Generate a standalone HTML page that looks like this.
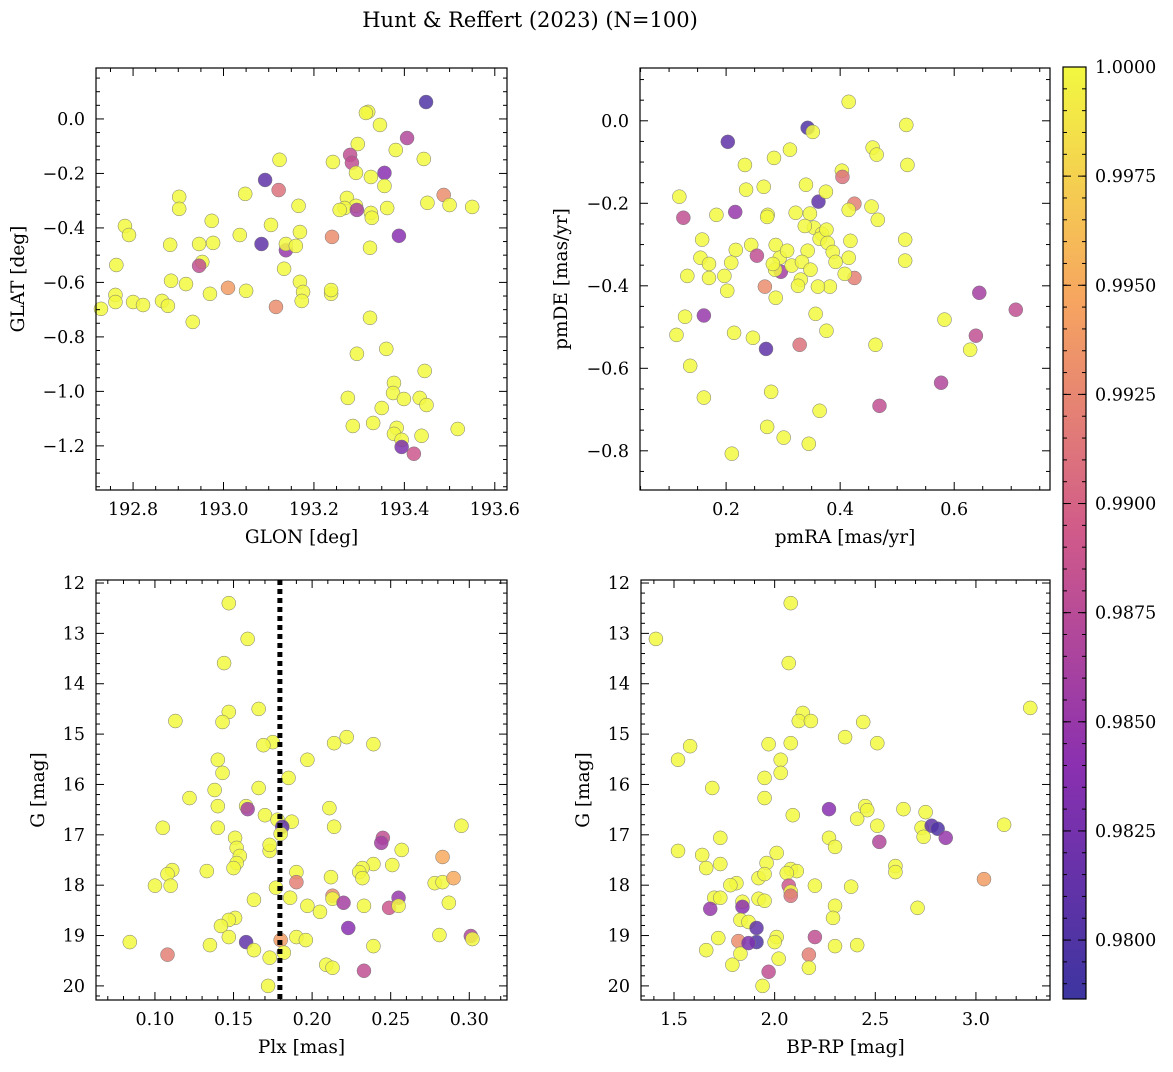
<!DOCTYPE html>
<html><head><meta charset="utf-8"><style>
body{margin:0;background:#fff;}
svg{font-family:"DejaVu Serif","Liberation Serif",serif;}
</style></head><body>
<svg id="fig" width="1173" height="1067" xmlns="http://www.w3.org/2000/svg">
<defs><linearGradient id="plasma" x1="0" y1="1" x2="0" y2="0">
<stop offset="0" stop-color="#3d35a0"/><stop offset="0.25" stop-color="#8a30b0"/><stop offset="0.5" stop-color="#d05a8a"/><stop offset="0.75" stop-color="#f7a560"/><stop offset="1" stop-color="#f2f840"/></linearGradient></defs>
<text x="530" y="27" font-size="21" text-anchor="middle">Hunt &amp; Reffert (2023) (N=100)</text>
</svg>
<script>
// Panel 1: GLON / GLAT
const glon=[193.320,193.448,193.346,193.406,193.297,193.280,193.284,193.381,193.356,193.293,193.326,193.356,193.242,193.443,193.124,193.092,193.122,193.048,193.273,193.293,193.268,193.326,193.295,193.362,193.451,193.487,193.500,193.550,193.257,193.328,193.166,193.105,193.169,193.138,193.240,193.084,193.138,193.160,193.324,193.388,192.974,192.902,192.902,192.782,192.791,192.977,192.946,192.882,193.036,192.953,192.763,192.946,193.134,193.169,192.884,192.917,192.970,193.010,193.050,192.761,192.800,192.761,192.864,192.877,192.822,193.116,193.176,193.238,193.238,193.173,192.932,192.729,193.324,193.295,193.360,193.445,193.377,193.375,193.350,193.399,193.434,193.449,193.275,193.286,193.331,193.383,193.377,193.394,193.438,193.518,193.394,193.421,193.315];
const glat=[0.026,0.062,-0.022,-0.070,-0.092,-0.132,-0.161,-0.114,-0.198,-0.198,-0.213,-0.246,-0.158,-0.147,-0.150,-0.224,-0.261,-0.275,-0.290,-0.319,-0.327,-0.345,-0.334,-0.327,-0.308,-0.279,-0.316,-0.323,-0.334,-0.363,-0.319,-0.389,-0.415,-0.482,-0.433,-0.459,-0.459,-0.466,-0.473,-0.429,-0.374,-0.286,-0.330,-0.393,-0.426,-0.455,-0.459,-0.462,-0.426,-0.525,-0.536,-0.539,-0.550,-0.598,-0.594,-0.606,-0.642,-0.620,-0.631,-0.646,-0.672,-0.672,-0.668,-0.686,-0.683,-0.690,-0.635,-0.642,-0.628,-0.668,-0.745,-0.697,-0.730,-0.862,-0.844,-0.925,-0.969,-1.006,-1.061,-1.028,-1.024,-1.050,-1.024,-1.127,-1.116,-1.134,-1.156,-1.178,-1.163,-1.138,-1.204,-1.229,0.022];
const prob1=[1,.980,1,.987,1,.988,.988,1,.984,1,1,1,1,1,1,.981,.991,1,1,1,1,1,.986,1,1,.993,1,1,1,1,1,1,1,.985,.993,.981,1,1,1,.984,1,1,1,1,1,1,1,1,1,1,1,.988,1,1,1,1,1,.994,1,1,1,1,1,1,1,.993,1,1,1,1,1,1,1,1,1,1,1,1,1,1,1,1,1,1,1,1,1,1,1,1,.983,.989,1];
// Panel 2: pmRA / pmDE
const pmra=[0.415,0.516,0.343,0.352,0.203,0.312,0.457,0.233,0.284,0.403,0.464,0.404,0.518,0.340,0.362,0.425,0.118,0.183,0.235,0.266,0.375,0.322,0.347,0.273,0.216,0.125,0.244,0.272,0.287,0.354,0.368,0.364,0.415,0.455,0.466,0.418,0.294,0.254,0.217,0.158,0.155,0.209,0.197,0.268,0.296,0.307,0.343,0.376,0.378,0.387,0.392,0.415,0.425,0.382,0.361,0.331,0.315,0.286,0.282,0.333,0.408,0.338,0.348,0.514,0.514,0.287,0.326,0.170,0.132,0.202,0.170,0.113,0.128,0.161,0.214,0.247,0.270,0.329,0.376,0.137,0.357,0.161,0.279,0.583,0.644,0.638,0.708,0.462,0.577,0.628,0.469,0.272,0.364,0.301,0.345,0.210];
const pmde=[0.046,-0.010,-0.017,-0.027,-0.051,-0.070,-0.065,-0.107,-0.090,-0.121,-0.082,-0.136,-0.107,-0.155,-0.196,-0.201,-0.184,-0.228,-0.167,-0.160,-0.172,-0.223,-0.225,-0.228,-0.221,-0.235,-0.301,-0.233,-0.301,-0.259,-0.274,-0.286,-0.216,-0.208,-0.240,-0.291,-0.332,-0.327,-0.313,-0.288,-0.332,-0.344,-0.376,-0.402,-0.366,-0.315,-0.315,-0.264,-0.296,-0.318,-0.342,-0.332,-0.381,-0.402,-0.402,-0.385,-0.351,-0.361,-0.347,-0.342,-0.371,-0.255,-0.361,-0.339,-0.288,-0.429,-0.400,-0.381,-0.376,-0.412,-0.347,-0.519,-0.475,-0.472,-0.514,-0.526,-0.553,-0.543,-0.509,-0.594,-0.468,-0.671,-0.657,-0.482,-0.417,-0.521,-0.458,-0.543,-0.635,-0.555,-0.691,-0.742,-0.703,-0.768,-0.783,-0.807];
const prob2=[1,1,.980,1,.981,1,1,1,1,1,1,.991,1,1,.981,.992,1,1,1,1,1,1,1,1,.985,.988,1,1,1,1,1,1,1,1,1,1,1,.988,1,1,1,1,1,.993,.986,1,1,1,1,1,1,1,.992,1,1,1,1,1,1,1,1,1,1,1,1,1,1,1,1,1,1,1,1,.985,1,1,.981,.991,1,1,1,1,1,1,.986,.988,.988,1,.987,1,.988,1,1,1,1,1];
// Panel 3: Plx / G
const plx=[0.147,0.159,0.144,0.166,0.147,0.113,0.143,0.175,0.169,0.222,0.214,0.239,0.197,0.140,0.143,0.185,0.138,0.166,0.122,0.140,0.158,0.159,0.211,0.105,0.140,0.170,0.178,0.187,0.181,0.214,0.180,0.295,0.245,0.244,0.151,0.152,0.173,0.173,0.257,0.154,0.111,0.108,0.133,0.152,0.150,0.239,0.232,0.230,0.251,0.212,0.232,0.190,0.190,0.177,0.100,0.110,0.278,0.283,0.283,0.290,0.287,0.186,0.163,0.213,0.213,0.197,0.205,0.233,0.220,0.249,0.255,0.255,0.151,0.147,0.142,0.223,0.147,0.190,0.196,0.180,0.084,0.135,0.158,0.239,0.281,0.301,0.302,0.108,0.163,0.182,0.173,0.209,0.213,0.233,0.172];
const gmag3=[12.40,13.11,13.59,14.50,14.56,14.74,14.76,15.16,15.22,15.06,15.18,15.20,15.51,15.51,15.77,15.87,16.11,16.07,16.27,16.43,16.43,16.49,16.47,16.86,16.86,16.61,16.70,16.74,16.84,16.84,16.98,16.82,17.06,17.16,17.06,17.26,17.32,17.20,17.30,17.42,17.70,17.78,17.72,17.56,17.66,17.58,17.66,17.74,17.60,17.84,17.86,17.74,17.94,18.05,18.01,18.01,17.96,17.94,17.44,17.86,18.35,18.25,18.29,18.21,18.27,18.41,18.53,18.41,18.35,18.45,18.25,18.41,18.65,18.69,18.81,18.85,19.03,19.03,19.09,19.09,19.13,19.19,19.13,19.21,18.99,19.01,19.07,19.38,19.29,19.34,19.44,19.58,19.64,19.70,20.00];
const prob3=[1,1,1,1,1,1,1,1,1,1,1,1,1,1,1,1,1,1,1,1,1,.986,1,1,1,1,1,1,.981,1,1,1,.988,.986,1,1,1,1,1,1,1,1,1,1,1,1,1,1,1,1,1,1,.992,1,1,1,1,1,.995,.995,1,1,1,.993,1,1,1,1,.986,.989,.985,1,1,1,1,.984,1,1,1,.994,1,1,.981,1,1,.987,1,.992,1,1,1,1,1,.988,1];
const plxCut=[0.1795];
// Panel 4: BP-RP / G
const bprp=[2.08,1.41,2.07,3.27,2.14,2.44,2.12,2.18,1.58,1.52,2.35,2.51,1.97,2.08,2.03,2.03,1.95,1.69,1.95,2.09,2.27,2.45,2.46,2.64,2.75,2.41,2.51,2.73,2.78,2.81,2.74,2.85,3.14,1.73,2.27,2.30,2.52,1.52,1.64,1.66,1.73,1.96,2.01,2.08,2.11,2.06,2.60,2.60,1.92,1.95,1.81,1.78,2.07,2.08,2.08,2.20,2.38,1.70,1.73,1.92,1.95,1.84,2.71,2.30,1.68,1.84,2.29,1.83,1.87,1.91,3.04,1.66,1.72,1.91,2.01,2.00,1.82,1.83,2.20,2.30,2.41,2.17,2.02,1.79,1.97,2.17,1.94,1.87];
const gmag4=[12.40,13.11,13.59,14.48,14.58,14.76,14.74,14.74,15.24,15.51,15.06,15.18,15.20,15.18,15.51,15.77,15.87,16.07,16.27,16.61,16.49,16.43,16.51,16.49,16.55,16.68,16.82,16.86,16.82,16.88,17.04,17.06,16.80,17.06,17.06,17.24,17.14,17.32,17.40,17.66,17.58,17.56,17.36,17.68,17.72,17.76,17.62,17.74,17.86,17.78,17.96,18.00,18.01,18.13,18.21,18.01,18.03,18.25,18.25,18.27,18.31,18.33,18.45,18.41,18.47,18.43,18.65,18.69,18.73,18.85,17.88,19.29,19.05,19.13,19.03,19.13,19.11,19.36,19.03,19.21,19.19,19.38,19.46,19.58,19.72,19.64,20.00,19.15];
const prob4=[1,1,1,1,1,1,1,1,1,1,1,1,1,1,1,1,1,1,1,1,.984,1,1,1,1,1,1,1,.981,.980,1,.985,1,1,1,1,.987,1,1,1,1,1,1,1,1,1,1,1,1,1,1,1,.989,1,.991,1,1,1,1,1,1,1,1,1,.985,.984,1,1,1,.981,.994,1,1,.980,1,1,.993,1,.988,1,1,.992,1,1,.988,1,1,.983];
// Colorbar ticks
const cbTicks=[0.98,0.9825,0.985,0.9875,0.99,0.9925,0.995,0.9975,1.0];

const NS="http://www.w3.org/2000/svg";
const fig=document.getElementById('fig');
const VMIN=0.97865,VMAX=1.0;
const stops=[[0,[61,53,160]],[0.25,[138,48,176]],[0.5,[208,90,138]],[0.75,[247,165,96]],[1,[242,248,64]]];
function cmap(v){let t=Math.max(0,Math.min(1,(v-VMIN)/(VMAX-VMIN)));for(let i=0;i<stops.length-1;i++){const a=stops[i],b=stops[i+1];if(t<=b[0]){const f=(t-a[0])/(b[0]-a[0]);const c=a[1].map((x,k)=>Math.round(x+(b[1][k]-x)*f));return `rgb(${c})`;}}return 'rgb(242,248,64)';}
function mk(tag,attrs,parent){const e=document.createElementNS(NS,tag);for(const k in attrs)e.setAttribute(k,attrs[k]);(parent||fig).appendChild(e);return e;}

function panel(o){
  const g=mk('g',{});
  
  
  const sx=v=>o.L+(v-o.xmin)/(o.xmax-o.xmin)*(o.R-o.L);
  const sy=v=>o.inv? o.T+(v-o.ymin)/(o.ymax-o.ymin)*(o.B-o.T) : o.B-(v-o.ymin)/(o.ymax-o.ymin)*(o.B-o.T);
  const pg=mk('g',{},g);
  
  
  for(let i=0;i<o.xs.length;i++){
    const c=mk('circle',{cx:sx(o.xs[i]),cy:sy(o.ys[i]),r:7,fill:cmap(o.ps[i]),'fill-opacity':0.85,stroke:'#777','stroke-width':0.5},pg);
    
    
  }
  if(o.vline){const l=mk('line',{x1:sx(o.vline[0]),x2:sx(o.vline[0]),y1:o.T,y2:o.B,stroke:'#000','stroke-width':5,'stroke-dasharray':'5,4'},g);
    
    }
  const fr=mk('rect',{x:o.L,y:o.T,width:o.R-o.L,height:o.B-o.T,fill:'none',stroke:'#000','stroke-width':1.2},g);
  
  
  const eps=1e-9;
  for(let v=Math.ceil(o.xmin/o.xminor-eps)*o.xminor;v<=o.xmax+eps;v+=o.xminor){
    const x=sx(v);const isMaj=Math.abs(v/o.xmaj-Math.round(v/o.xmaj))<1e-6;const len=isMaj?8:4;
    mk('line',{x1:x,x2:x,y1:o.B,y2:o.B-len,stroke:'#000','stroke-width':1},g);
    mk('line',{x1:x,x2:x,y1:o.T,y2:o.T+len,stroke:'#000','stroke-width':1},g);
    if(isMaj){const t=mk('text',{x:x,y:o.B+25,'font-size':17.5,'text-anchor':'middle'},g);t.textContent=v.toFixed(o.xdec);
      
      }
  }
  for(let v=Math.ceil(Math.min(o.ymin,o.ymax)/o.yminor-eps)*o.yminor;v<=Math.max(o.ymin,o.ymax)+eps;v+=o.yminor){
    const y=sy(v);const isMaj=Math.abs(v/o.ymaj-Math.round(v/o.ymaj))<1e-6;const len=isMaj?8:4;
    mk('line',{x1:o.L,x2:o.L+len,y1:y,y2:y,stroke:'#000','stroke-width':1},g);
    mk('line',{x1:o.R,x2:o.R-len,y1:y,y2:y,stroke:'#000','stroke-width':1},g);
    if(isMaj){let s=v.toFixed(o.ydec);if(Math.abs(v)<1e-9)s=(0).toFixed(o.ydec);s=s.replace('-','\u2212');
      const t=mk('text',{x:o.L-11,y:y+6,'font-size':17.5,'text-anchor':'end'},g);t.textContent=s;
      
      }
  }
  const xl=mk('text',{x:(o.L+o.R)/2,y:o.B+53,'font-size':18.5,'text-anchor':'middle'},g);xl.textContent=o.xlabel;
  
  
  const yx=o.ylx,yy=(o.T+o.B)/2;
  const yl=mk('text',{x:yx,y:yy,'font-size':18.5,'text-anchor':'middle',transform:`rotate(-90 ${yx} ${yy})`},g);yl.textContent=o.ylabel;
  
  
}

panel({name:'glon-glat-panel',L:96,R:507,T:68,B:490,xmin:192.718,xmax:193.627,ymin:-1.362,ymax:0.187,xmaj:0.2,xminor:0.05,ymaj:0.2,yminor:0.05,xdec:1,ydec:1,xs:glon,ys:glat,ps:prob1,xlabel:'GLON [deg]',ylabel:'GLAT [deg]',ylx:24});
panel({name:'pm-panel',L:640,R:1050,T:68,B:490,xmin:0.049,xmax:0.768,ymin:-0.895,ymax:0.128,xmaj:0.2,xminor:0.05,ymaj:0.2,yminor:0.05,xdec:1,ydec:1,xs:pmra,ys:pmde,ps:prob2,xlabel:'pmRA [mas/yr]',ylabel:'pmDE [mas/yr]',ylx:567});
panel({name:'plx-g-panel',L:96,R:507,T:580,B:1000,inv:true,xmin:0.0625,xmax:0.324,ymin:11.94,ymax:20.28,xmaj:0.05,xminor:0.01,ymaj:1,yminor:0.2,xdec:2,ydec:0,xs:plx,ys:gmag3,ps:prob3,vline:plxCut,xlabel:'Plx [mas]',ylabel:'G [mag]',ylx:44});
panel({name:'cmd-panel',L:641,R:1050,T:580,B:1000,inv:true,xmin:1.336,xmax:3.368,ymin:11.94,ymax:20.28,xmaj:0.5,xminor:0.1,ymaj:1,yminor:0.2,xdec:1,ydec:0,xs:bprp,ys:gmag4,ps:prob4,xlabel:'BP-RP [mag]',ylabel:'G [mag]',ylx:589});

const cb=mk('g',{});


const CT=67,CB=999,CL=1063,CR=1086;
mk('rect',{x:CL,y:CT,width:CR-CL,height:CB-CT,fill:'url(#plasma)',stroke:'#000','stroke-width':1.2},cb);
const cy=v=>CB-(v-VMIN)/(VMAX-VMIN)*(CB-CT);
for(let v=0.979;v<=1.00001;v+=0.0005){const y=cy(v);mk('line',{x1:CR,x2:CR-4,y1:y,y2:y,stroke:'#000'},cb);mk('line',{x1:CL,x2:CL+4,y1:y,y2:y,stroke:'#000'},cb);}
cbTicks.forEach(v=>{const y=cy(v);mk('line',{x1:CR,x2:CR-8,y1:y,y2:y,stroke:'#000'},cb);mk('line',{x1:CL,x2:CL+8,y1:y,y2:y,stroke:'#000'},cb);
  const t=mk('text',{x:CR+9,y:y+6,'font-size':17.5},cb);t.textContent=v.toFixed(4);
  
  });
</script>
</body></html>
